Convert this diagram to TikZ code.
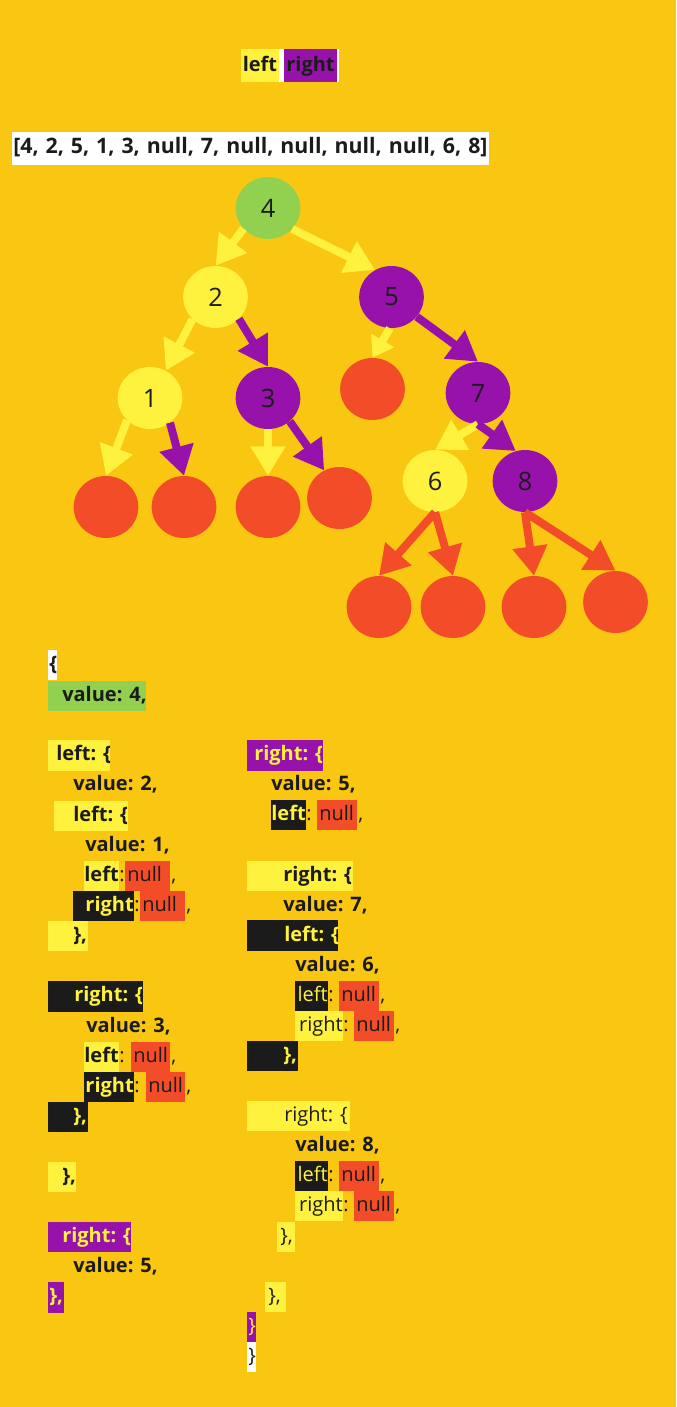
\documentclass[tikz,border=0pt]{standalone}
\usepackage{fontspec}
\setmainfont{Open Sans}
\usetikzlibrary{arrows.meta,shapes.geometric}

\definecolor{bgc}{HTML}{F9C612}
\definecolor{yel}{HTML}{FFF23E}
\definecolor{grn}{HTML}{92D150}
\definecolor{pur}{HTML}{9612AA}
\definecolor{nullred}{HTML}{F24C28}
\definecolor{ink}{HTML}{1B1B1B}
\newcommand\codesize{\fontsize{15}{18}\selectfont}

\begin{document}
\begin{tikzpicture}[x=0.75pt, y=-0.75pt, >={Triangle[length=22pt,width=25pt]},
  tnode/.style={ellipse, minimum width=48.5pt, minimum height=46.5pt, inner sep=0pt, text=ink, font=\fontsize{19}{19}\selectfont},
  edge/.style={->, line width=6pt},
  code/.style={anchor=west, inner sep=0pt, text height=11pt, text depth=3.5pt, text=ink, font=\codesize\bfseries}]
  \fill[bgc] (0,0) rectangle (676,1407);

  % legend and input array
  \fill[yel] (241,49) rectangle (279,82);
  \fill[white] (279,49) rectangle (284,82);
  \fill[pur] (284,49) rectangle (337,82);
  \fill[white] (337,49) rectangle (339,82);
  \node[code, anchor=center] (hl) at (260,66) {left};
  \node[code, anchor=center] (hr) at (310.5,66) {right};
  \node[code, fill=white, minimum height=24.75pt, inner xsep=0.75pt,
    font=\fontsize{16}{18}\selectfont\bfseries] (arr) at (12,148.5)
    {\spaceskip=5.2pt\relax [4, 2, 5, 1, 3, null, 7, null, null, null, null, 6, 8]};

  % tree
  \foreach \n/\x/\y/\c in {4/268/208/grn, 2/215.5/297/yel, 5/391.5/297/pur, 1/150/398/yel,
      3/268/398/pur, 7/478/393/pur, 6/435/481/yel, 8/525/481/pur}
    \node[tnode, fill=\c] (n\n) at (\x,\y) {\n};
  \foreach \n/\x/\y in {a/106/507, b/184/507, c/268/507, d/339.5/498, e/372.5/389,
      f/379/607, g/453/607, h/534/607, i/615.5/602}
    \node[tnode, fill=nullred] (l\n) at (\x,\y) {};
  \foreach \a/\b/\c in {n4.220/n2.north/yel, n4.-41/n5.121/yel, n2.224/n1.60/yel,
      n2.-43/n3.north/pur, n1.-136/la.north/yel, n1.-51/lb.north/pur, n3.south/lc.north/yel,
      n3.-47/ld.119/pur, n5.-38/n7.north/pur, n7.south/n6.north/yel, n7.south/n8.107/pur,
      n6.south/lf.north/nullred, n6.south/lg.north/nullred, n8.south/lh.north/nullred,
      n8.south/li.north/nullred}
    \draw[edge, \c] (\a) -- (\b);
  \draw[edge, yel, -{Triangle[length=15pt,width=19pt]}] (n5.-93) -- (le.north);

  % object literal
  \foreach \c/\xa/\ya/\xb/\yb in {white/48/650/57/680, grn/48/681/146/711, yel/48/740/110/771,
      yel/54/801/128/831, yel/48/921/88/951, ink/48/981/143/1012, ink/48/1102/88/1132,
      yel/48/1162/76/1192, pur/48/1222/131/1252, pur/48/1282/64/1313, pur/247/740/323/771,
      yel/247/861/353/891, ink/247/920/338/951, ink/247/1041/298/1071, yel/247/1101/350/1131,
      yel/277/1222/295/1252, yel/265/1282/286/1312, pur/247/1312/256/1342, white/247/1342/256/1372}
    \fill[\c] (\xa,\ya) rectangle (\xb,\yb);
  \foreach \i/\x/\y/\c/\w/\txt in {1/49/665/ink/\bfseries/\{, 2/62/696/ink/\bfseries/{value: 4,},
      3/56/755/ink/\bfseries/left: \{, 4/73/785/ink/\bfseries/{value: 2,},
      5/73/816/ink/\bfseries/left: \{, 6/85/846/ink/\bfseries/{value: 1,},
      7/73/936/ink/\bfseries/{\},}, 8/74/996/yel/\bfseries/right: \{,
      9/86/1027/ink/\bfseries/{value: 3,}, 10/73/1117/yel/\bfseries/{\},},
      11/62/1177/ink/\bfseries/{\},}, 12/62/1237/yel/\bfseries/right: \{,
      13/73/1267/ink/\bfseries/{value: 5,}, 14/49/1297/yel/\bfseries/{\},},
      15/254/755/yel/\bfseries/right: \{, 16/271/785/ink/\bfseries/{value: 5,},
      17/283/876/ink/\bfseries/right: \{, 18/283/906/ink/\bfseries/{value: 7,},
      19/284/936/yel/\bfseries/left: \{, 20/295/966/ink/\bfseries/{value: 6,},
      21/283/1056/yel/\bfseries/{\},}, 22/284/1116/ink/\mdseries/right: \{,
      23/295/1146/ink/\bfseries/{value: 8,}, 24/280/1237/ink/\mdseries/{\},},
      25/268/1297/ink/\mdseries/{\},}, 26/248/1327/yel/\mdseries/\},
      27/248/1357/ink/\mdseries/\}}
    \node[code, text=\c, font=\codesize\w] (t\i) at (\x,\y) {\txt};
  \foreach \i/\y/\ka/\kb/\kc/\kt/\kw/\key/\na/\nb in {1/876/84/119/yel/ink/\bfseries/left/125/170,
      2/906/73/134/ink/yel/\bfseries/right/140/185, 3/1057/84/119/yel/ink/\bfseries/left/131/170,
      4/1087/84/134/ink/yel/\bfseries/right/146/185, 5/815/271/306/ink/yel/\bfseries/left/317/357,
      6/996/295/328/ink/yel/\mdseries/left/339/379, 7/1026/295/343/yel/ink/\mdseries/right/354/394,
      8/1176/295/328/ink/yel/\mdseries/left/339/379, 9/1206/295/343/yel/ink/\mdseries/right/354/394}{
    \fill[\kc] (\ka,\y-15) rectangle (\kb,\y+15);
    \fill[nullred] (\na,\y-15) rectangle (\nb,\y+15);
    \node[code, anchor=east, text=\kt, font=\codesize\kw] (k\i) at (\kb,\y) {\key};
    \node[code, font=\codesize\mdseries] (c\i) at (k\i.east) {:};
    \node[code, font=\codesize\mdseries] (v\i) at (\na+2,\y) {null};
    \node[code, font=\codesize\mdseries] (m\i) at (\nb+1,\y) {,};
  }
\end{tikzpicture}
\end{document}
